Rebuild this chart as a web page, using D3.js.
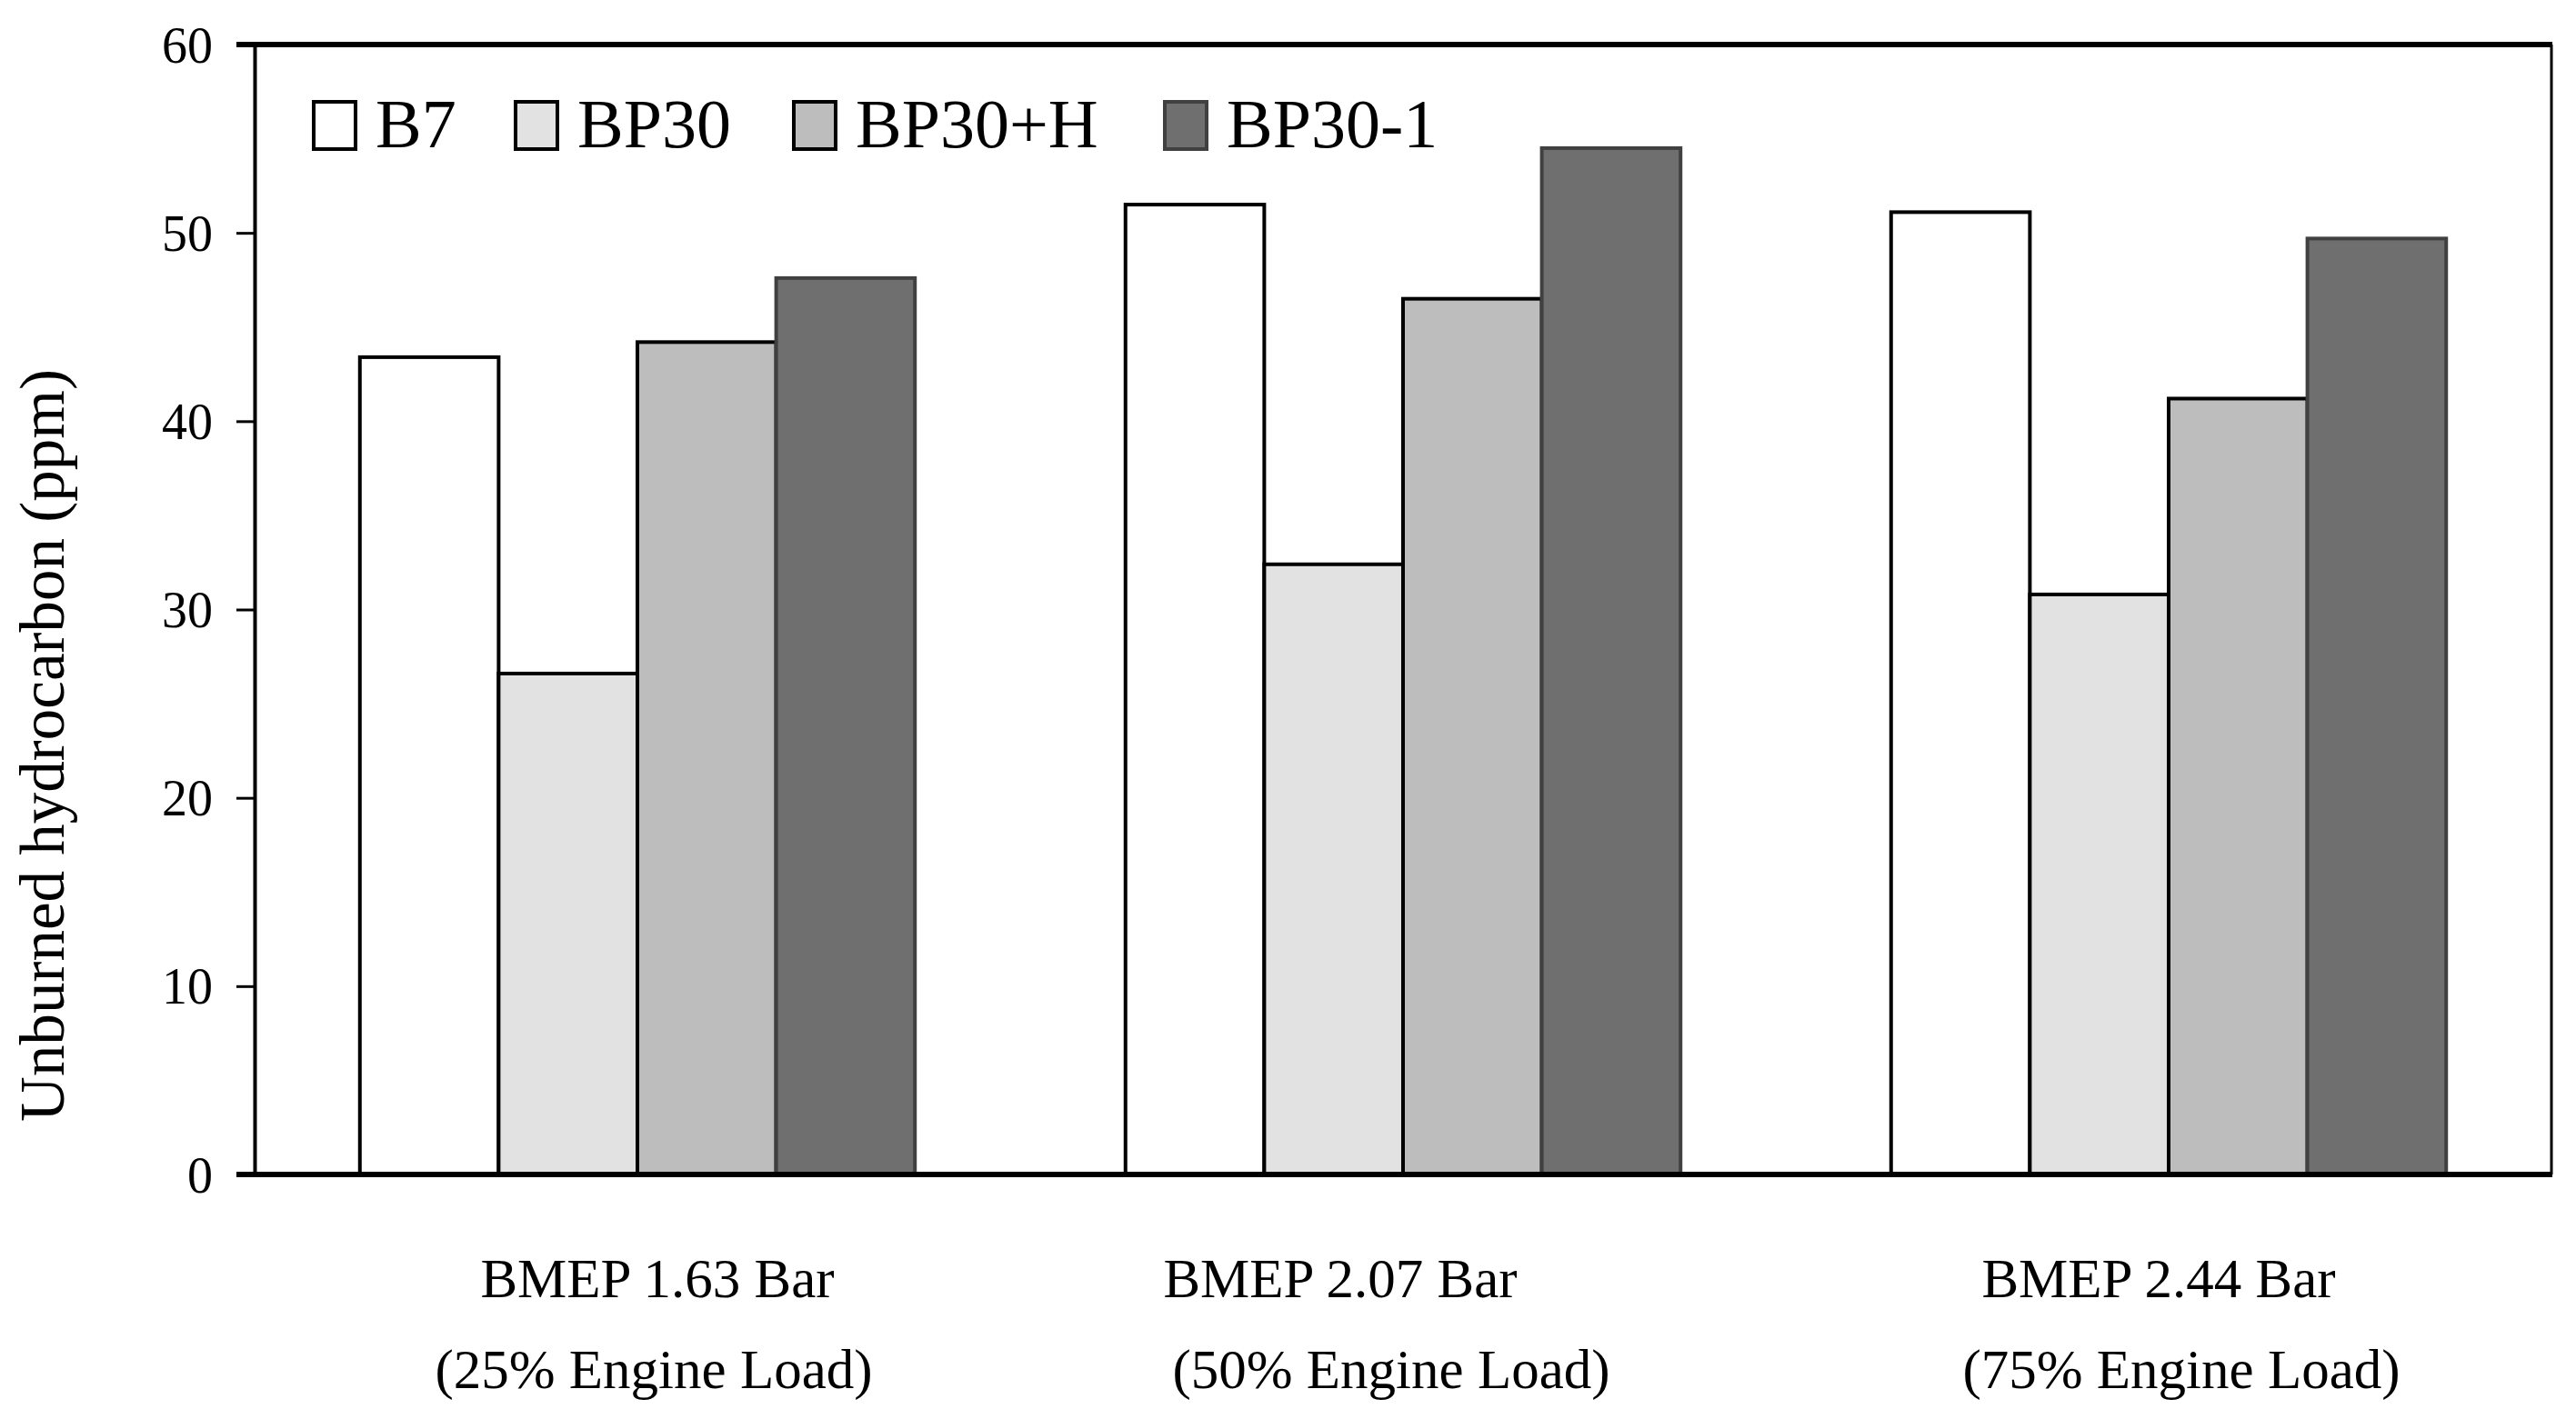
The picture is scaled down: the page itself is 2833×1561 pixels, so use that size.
<!DOCTYPE html>
<html>
<head>
<meta charset="utf-8">
<script src="https://cdn.jsdelivr.net/npm/d3@7"></script>
<style>
  body { margin: 0; background: #fff; }
  text { font-family: "Liberation Serif", "DejaVu Serif", serif; fill: #000; }
</style>
</head>
<body>
<script>
var w = 2833;
var h = 1561;

// data
var loads = ["BMEP 1.63 Bar", "BMEP 2.07 Bar", "BMEP 2.44 Bar"];
var loadNotes = ["(25% Engine Load)", "(50% Engine Load)", "(75% Engine Load)"];
var fuels = ["B7", "BP30", "BP30+H", "BP30-1"];
var b7 = [43.4, 51.5, 51.1];
var bp30 = [26.6, 32.4, 30.8];
var bp30h = [44.2, 46.5, 41.2];
var bp301 = [47.6, 54.5, 49.7];
var yTicks = [0, 10, 20, 30, 40, 50, 60];

var series = [b7, bp30, bp30h, bp301];
var fills = ["#ffffff", "#e2e2e2", "#bdbdbd", "#6f6f6f"];
var strokes = ["#000", "#000", "#000", "#404040"];

var pLeft = 280, pRight = 2806, pTop = 49, pBottom = 1292;
// the labels in the original are not quite centred under their groups
var nudge1 = [22, -69, -11];
var nudge2 = [18, -13, 14];

var svg = d3.select("body")
    .append("svg")
    .attr("width", w)
    .attr("height", h);

var x0 = d3.scaleBand()
    .domain(loads)
    .range([pLeft, pRight])
    .paddingInner(0.275)
    .paddingOuter(0.1375);

var x1 = d3.scaleBand()
    .domain(fuels)
    .range([0, x0.bandwidth()]);

var y = d3.scaleLinear()
    .domain([0, 60])
    .range([pBottom, pTop]);

// bars
var groups = svg.selectAll("g.grp")
    .data(loads)
    .enter()
    .append("g")
    .attr("class", "grp")
    .attr("transform", function (d) { return "translate(" + x0(d) + ",0)"; });

groups.selectAll("rect")
    .data(function (d, i) {
        return fuels.map(function (f, k) { return { fuel: f, k: k, v: series[k][i] }; });
    })
    .enter()
    .append("rect")
    .attr("x", function (d) { return x1(d.fuel); })
    .attr("y", function (d) { return y(d.v); })
    .attr("width", x1.bandwidth())
    .attr("height", function (d) { return y(0) - y(d.v); })
    .attr("fill", function (d) { return fills[d.k]; })
    .attr("stroke", function (d) { return strokes[d.k]; })
    .attr("stroke-width", 4);

// frame: thin right side, thick top
svg.append("line")
    .attr("x1", pRight).attr("x2", pRight)
    .attr("y1", pTop).attr("y2", pBottom)
    .attr("stroke", "#000").attr("stroke-width", 3);
svg.append("line")
    .attr("x1", pLeft - 20).attr("x2", pRight + 1)
    .attr("y1", pTop).attr("y2", pTop)
    .attr("stroke", "#000").attr("stroke-width", 6);

// y axis
var yAxis = d3.axisLeft(y).tickValues(yTicks).tickSize(20).tickPadding(26);
var ya = svg.append("g").attr("transform", "translate(" + pLeft + ",0)").call(yAxis);
ya.select(".domain").attr("stroke-width", 4);
ya.selectAll(".tick line").attr("stroke-width", 3);
ya.selectAll("text").attr("font-size", 56).attr("font-family", "Liberation Serif").attr("dy", "0.34em");

// x axis line
svg.append("line")
    .attr("x1", pLeft - 20).attr("x2", pRight + 1)
    .attr("y1", pBottom).attr("y2", pBottom)
    .attr("stroke", "#000").attr("stroke-width", 6);

// category labels, two lines
var xl = svg.selectAll("g.xl")
    .data(loads)
    .enter()
    .append("g")
    .attr("class", "xl")
    .attr("transform", function (d) { return "translate(" + (x0(d) + x0.bandwidth() / 2) + ",0)"; });
xl.append("text")
    .attr("x", function (d, i) { return nudge1[i]; })
    .attr("y", 1427)
    .attr("text-anchor", "middle")
    .attr("font-size", 61)
    .text(function (d) { return d; });
xl.append("text")
    .attr("x", function (d, i) { return nudge2[i]; })
    .attr("y", 1527)
    .attr("text-anchor", "middle")
    .attr("font-size", 61)
    .text(function (d, i) { return loadNotes[i]; });

// y title
svg.append("text")
    .attr("transform", "translate(70,820) rotate(-90)")
    .attr("text-anchor", "middle")
    .attr("font-size", 69)
    .text("Unburned hydrocarbon (ppm)");

// legend
var legX = [345, 567, 873, 1281];
var leg = svg.selectAll("g.leg")
    .data(fuels)
    .enter()
    .append("g")
    .attr("class", "leg")
    .attr("transform", function (d, i) { return "translate(" + legX[i] + ",112)"; });
leg.append("rect")
    .attr("width", 46)
    .attr("height", 52)
    .attr("fill", function (d, i) { return fills[i]; })
    .attr("stroke", function (d, i) { return strokes[i]; })
    .attr("stroke-width", 4);
leg.append("text")
    .attr("x", 68)
    .attr("y", 50)
    .attr("font-size", 76)
    .text(function (d) { return d; });
</script>
</body>
</html>
